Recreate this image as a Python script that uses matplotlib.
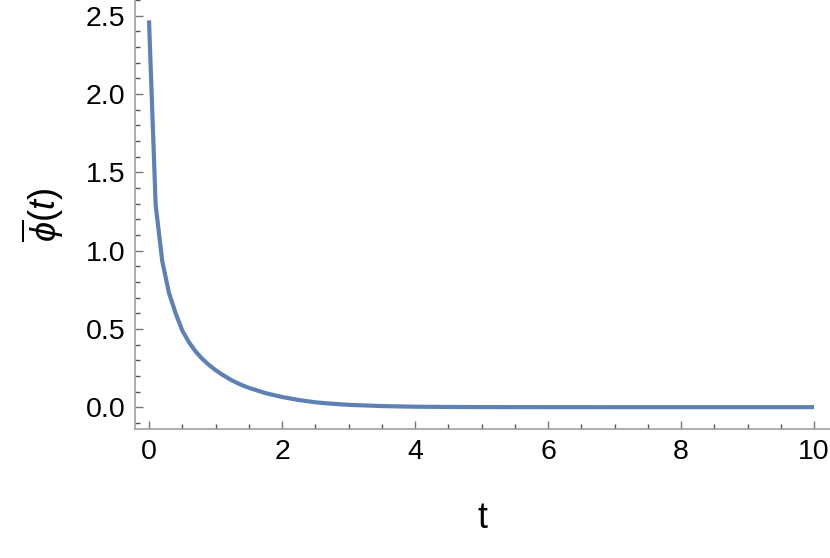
import matplotlib
matplotlib.use("Agg")
import matplotlib.pyplot as plt
from matplotlib.ticker import MultipleLocator, FormatStrFormatter

# values
t = [0.0, 0.1, 0.2, 0.3, 0.4, 0.5, 0.6, 0.7, 0.8, 0.9, 1.0, 1.1, 1.25, 1.4,
     1.5, 1.75, 2.0, 2.25, 2.5, 2.75, 3.0, 3.5, 4.0, 4.5, 5.0, 6.0, 7.0,
     8.0, 9.0, 10.0]
phi = [2.47, 1.29, 0.93, 0.73, 0.60, 0.49, 0.415, 0.356, 0.309, 0.27, 0.237,
       0.208, 0.17, 0.14, 0.124, 0.09, 0.065, 0.046, 0.031, 0.022, 0.015,
       0.007, 0.003, 0.0015, 0.0006, 0.0001, 0.0, 0.0, 0.0, 0.0]

plt.rcParams["font.family"] = ["Liberation Sans", "DejaVu Sans"]
plt.rcParams["mathtext.fontset"] = "custom"
plt.rcParams["mathtext.rm"] = "Liberation Sans"
plt.rcParams["mathtext.it"] = "Liberation Sans:italic"

fig = plt.figure(figsize=(8.3, 5.58), dpi=100)
ax = fig.add_axes([0.1627, 0.231, 0.8373, 0.769])
ax.plot(t, phi, color="#5E81B5", lw=3, solid_capstyle="butt")

ax.set_xlim(-0.21, 10.24)
ax.set_ylim(-0.14, 2.60)
ax.xaxis.set_major_locator(MultipleLocator(2))
ax.xaxis.set_minor_locator(MultipleLocator(0.5))
ax.yaxis.set_major_locator(MultipleLocator(0.5))
ax.yaxis.set_minor_locator(MultipleLocator(0.1))
ax.xaxis.set_major_formatter(FormatStrFormatter("%d"))
ax.yaxis.set_major_formatter(FormatStrFormatter("%.1f"))

for s in ("top", "right"):
    ax.spines[s].set_visible(False)
for s in ("left", "bottom"):
    ax.spines[s].set_color("#a0a0a0")
    ax.spines[s].set_linewidth(1.2)

ax.tick_params(which="major", direction="in", length=6, width=1,
               color="#777777", labelsize=20.5, pad=7)
ax.tick_params(which="minor", direction="in", length=3.5, width=1,
               color="#555555")

ax.set_xlabel("t", fontsize=26, labelpad=26)
ax.set_ylabel(r"$\overline{\phi}(t)$", fontsize=26, labelpad=14)

plt.savefig("out.png", dpi=100)
